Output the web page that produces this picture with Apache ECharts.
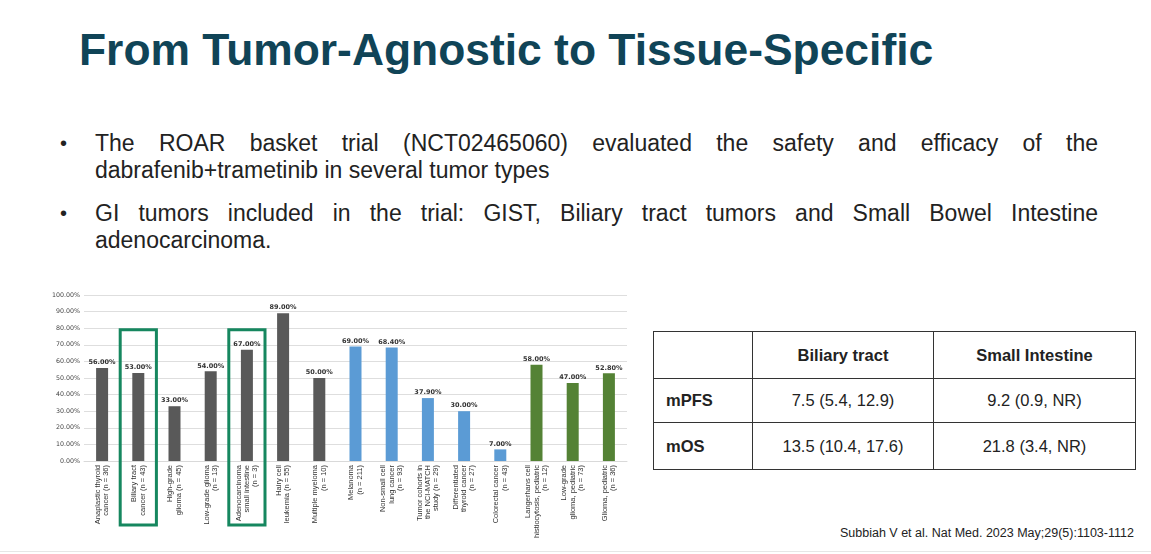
<!DOCTYPE html>
<html><head><meta charset="utf-8">
<script src="https://cdn.jsdelivr.net/npm/echarts@6/dist/echarts.min.js"></script>
<style>
html,body{margin:0;padding:0;background:#fff;}
body{width:1151px;height:554px;position:relative;overflow:hidden;font-family:"Liberation Sans",Arial,sans-serif;}
#title{position:absolute;left:79px;top:24px;font-size:44.4px;line-height:52px;font-weight:bold;color:#104457;white-space:nowrap;}
.bul{position:absolute;left:95px;width:1003px;font-size:23px;line-height:27px;color:#222;text-align:justify;text-align-last:left;}
.dot{position:absolute;left:60px;font-size:20px;line-height:27px;color:#222;}
#chart{position:absolute;left:0;top:280px;width:640px;height:262px;}
table{position:absolute;left:653px;top:331px;border-collapse:collapse;font-size:16.5px;color:#222;}
td{border:1.5px solid #333;text-align:center;padding:0;}
#cite{position:absolute;left:840px;top:526px;font-size:12.5px;color:#222;white-space:nowrap;}
#bline{position:absolute;left:0;top:551px;width:1151px;height:1px;background:#e6e6e6;}
</style></head>
<body>
<div id="title">From Tumor-Agnostic to Tissue-Specific</div>
<div class="dot" style="top:130px">•</div>
<div class="bul" style="top:130px">The ROAR basket trial (NCT02465060) evaluated the safety and efficacy of the dabrafenib+trametinib in several tumor types</div>
<div class="dot" style="top:200px">•</div>
<div class="bul" style="top:200px">GI tumors included in the trial: GIST, Biliary tract tumors and Small Bowel Intestine adenocarcinoma.</div>
<div id="chart"></div>
<table>
<tr style="height:47px"><td style="width:98px"></td><td style="width:180px;font-weight:bold">Biliary tract</td><td style="width:201px;font-weight:bold">Small Intestine</td></tr>
<tr style="height:44px"><td style="text-align:left;padding-left:12px;font-weight:bold">mPFS</td><td>7.5 (5.4, 12.9)</td><td>9.2 (0.9, NR)</td></tr>
<tr style="height:47px"><td style="text-align:left;padding-left:12px;font-weight:bold">mOS</td><td>13.5 (10.4, 17.6)</td><td>21.8 (3.4, NR)</td></tr>
</table>
<div id="cite">Subbiah V et al. Nat Med. 2023 May;29(5):1103-1112</div>
<div id="bline"></div>
<script>
const categories = [
 "Anaplastic thyroid\ncancer (n = 36)",
 "Biliary tract\ncancer (n = 43)",
 "High-grade\nglioma (n = 45)",
 "Low-grade glioma\n(n = 13)",
 "Adenocarcinoma\nsmall intestine\n(n = 3)",
 "Hairy cell\nleukemia (n = 55)",
 "Multiple myeloma\n(n = 10)",
 "Melanoma\n(n = 211)",
 "Non-small cell\nlung cancer\n(n = 93)",
 "Tumor cohorts in\nthe NCI-MATCH\nstudy (n = 29)",
 "Differentiated\nthyroid cancer\n(n = 27)",
 "Colorectal cancer\n(n = 43)",
 "Langerhans cell\nhistiocytosis, pediatric\n(n = 12)",
 "Low-grade\nglioma, pediatric\n(n = 73)",
 "Glioma, pediatric\n(n = 36)"
];
const responseRates = [56, 53, 33, 54, 67, 89, 50, 69, 68.4, 37.9, 30, 7, 58, 47, 52.8];
const groups = ["adult","adult","adult","adult","adult","adult","adult","nci","nci","nci","nci","nci","ped","ped","ped"];
const highlighted = ["Biliary tract\ncancer (n = 43)", "Adenocarcinoma\nsmall intestine\n(n = 3)"];
const groupColors = {adult:"#595959", nci:"#5b9bd5", ped:"#548235"};

const chart = echarts.init(document.getElementById('chart'), null, {renderer:'canvas'});
const wideFont = '"DejaVu Sans", sans-serif';
const narrowFont = '"Liberation Sans", Arial, sans-serif';
chart.setOption({
  animation:false,
  grid:{left:84,right:13,top:15,bottom:81},
  xAxis:{type:'category',data:categories,
    axisLine:{lineStyle:{color:'#d9d9d9'}},axisTick:{show:false},
    axisLabel:{rotate:90,fontSize:7.5,lineHeight:8.3,color:'#333',fontFamily:narrowFont,interval:0,margin:4}},
  yAxis:{type:'value',min:0,max:100,interval:10,
    axisLabel:{formatter:v=>v.toFixed(2)+'%',fontSize:6.3,color:'#444',fontFamily:wideFont,margin:4},
    splitLine:{lineStyle:{color:'#dedede',width:1.2}},axisLine:{show:false},axisTick:{show:false}},
  series:[{type:'bar',barWidth:12,
    data:responseRates.map((v,i)=>({value:v,itemStyle:{color:groupColors[groups[i]]}})),
    label:{show:true,position:'top',distance:2,fontSize:6.5,fontWeight:'bold',color:'#333',fontFamily:wideFont,
      formatter:p=>p.value.toFixed(2)+'%'}}]
});
const elems = highlighted.map(c=>{
  const p = chart.convertToPixel({seriesIndex:0},[c,79]);
  const p0 = chart.convertToPixel({seriesIndex:0},[categories[0],0]);
  const p1 = chart.convertToPixel({seriesIndex:0},[categories[1],0]);
  const w = p1[0]-p0[0];
  return {type:'rect',shape:{x:p[0]-w/2,y:p[1],width:w,height:245-p[1]},
    style:{fill:'none',stroke:'#16875f',lineWidth:3},z:100};
});
chart.setOption({graphic:elems});
</script>
</body></html>
